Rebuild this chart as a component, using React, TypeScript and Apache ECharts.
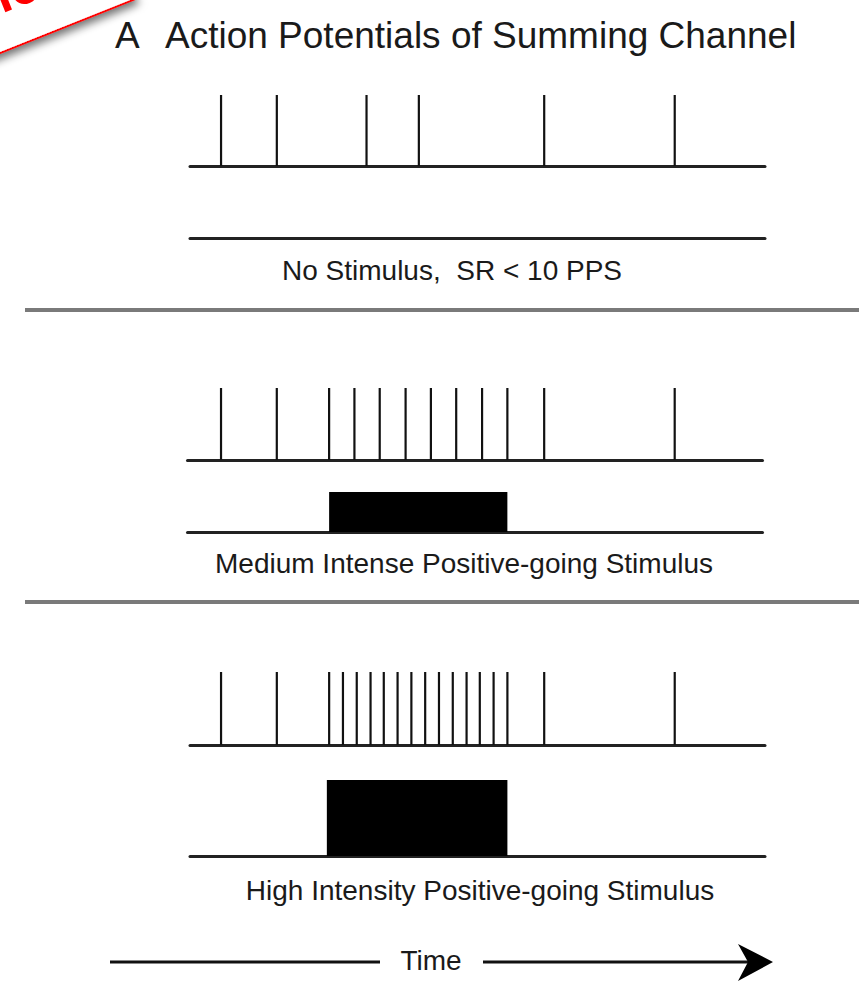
import React, { useEffect, useRef } from "react";
import * as echarts from "echarts";

// Spike times (0..100 time units across the trace)
const spikesNoStim = [5.4, 15.1, 30.7, 39.8, 61.6, 84.3];
const spikesMedium = [5.4, 15.1, 24.2, 28.6, 33.0, 37.5, 41.9, 46.3, 50.8, 55.2, 61.6, 84.3];
const spikesHigh = [
  5.4, 15.1, 24.2, 26.6, 29.0, 31.4, 33.7, 36.1, 38.5, 40.9, 43.3, 45.7, 48.1, 50.4, 52.8, 55.2, 61.6, 84.3,
];
// Stimulus windows [start, end]
const stimNo: number[][] = [];
const stimMedium = [[24.2, 55.2]];
const stimHigh = [[23.8, 55.2]];

const panelLabels = [
  "No Stimulus,  SR < 10 PPS",
  "Medium Intense Positive-going Stimulus",
  "High Intensity Positive-going Stimulus",
];
const titleLetter = "A";
const titleText = "Action Potentials of Summing Channel";
const timeLabel = "Time";

const FONT = "'Liberation Sans', Arial, Helvetica, sans-serif";

export default function App() {
  const ref = useRef<HTMLDivElement>(null);
  useEffect(() => {
    document.body.style.margin = "0";
    const chart = echarts.init(ref.current!, null, { renderer: "svg" });

    const grids = [
      { left: 190, top: 95, width: 575, height: 71 },
      { left: 190, top: 198, width: 575, height: 40 },
      { left: 187.5, top: 388, width: 575, height: 72 },
      { left: 187.5, top: 492, width: 575, height: 40 },
      { left: 190, top: 672, width: 575, height: 73 },
      { left: 190, top: 780, width: 575, height: 76 },
    ];
    const shifts = [0, 0, -0.43, -0.43, 0, 0];

    const xAxes = grids.map((_, i) => ({
      type: "value",
      gridIndex: i,
      min: 0 + shifts[i],
      max: 100 + shifts[i],
      axisLine: { show: true, onZero: false, lineStyle: { color: "#222", width: 3 } },
      axisTick: { show: false },
      axisLabel: { show: false },
      splitLine: { show: false },
    }));
    const yAxes = grids.map((_, i) => ({
      type: "value",
      gridIndex: i,
      min: 0,
      max: 1,
      show: false,
    }));

    const spikeSeries = (data: number[], idx: number) => ({
      type: "custom",
      xAxisIndex: idx,
      yAxisIndex: idx,
      data: data.map((t) => [t, 1]),
      encode: { x: 0, y: 1 },
      renderItem: (_p: any, api: any) => {
        const x = api.value(0);
        const p0 = api.coord([x, 0]);
        const p1 = api.coord([x, 1]);
        return {
          type: "line",
          shape: { x1: p0[0], y1: p0[1], x2: p1[0], y2: p1[1] },
          style: { stroke: "#111", lineWidth: 2.2 },
        };
      },
      z: 3,
    });
    const stimSeries = (data: number[][], idx: number) => ({
      type: "custom",
      xAxisIndex: idx,
      yAxisIndex: idx,
      data: data,
      encode: { x: [0, 1] },
      renderItem: (_p: any, api: any) => {
        const p0 = api.coord([api.value(0), 0]);
        const p1 = api.coord([api.value(1), 1]);
        return {
          type: "rect",
          shape: { x: p0[0], y: p1[1], width: p1[0] - p0[0], height: p0[1] - p1[1] },
          style: { fill: "#000" },
        };
      },
      z: 3,
    });

    const textEl = (text: string, x: number, y: number, size: number, align = "center") => ({
      type: "text",
      x,
      y,
      style: {
        text,
        fill: "#1a1a1a",
        font: `${size}px ${FONT}`,
        align,
        verticalAlign: "middle",
      },
    });

    const theta = 0.38;
    chart.setOption({
      animation: false,
      backgroundColor: "#fff",
      grid: grids.map((g) => ({ ...g, containLabel: false })),
      xAxis: xAxes,
      yAxis: yAxes,
      series: [
        spikeSeries(spikesNoStim, 0),
        stimSeries(stimNo, 1),
        spikeSeries(spikesMedium, 2),
        stimSeries(stimMedium, 3),
        spikeSeries(spikesHigh, 4),
        stimSeries(stimHigh, 5),
      ],
      graphic: [
        // red banner in top-left corner
        {
          type: "group",
          x: 0,
          y: 53,
          rotation: theta,
          z: 10,
          children: [
            {
              type: "rect",
              shape: { x: -260, y: -90, width: 404, height: 90 },
              style: {
                fill: "#fff",
                stroke: "#ff0000",
                lineWidth: 2,
                shadowBlur: 8,
                shadowColor: "rgba(0,0,0,0.55)",
                shadowOffsetX: 2,
                shadowOffsetY: 5,
              },
            },
            {
              type: "text",
              x: 60,
              y: -28,
              style: {
                text: "ic",
                fill: "#ff0000",
                font: `bold 52px ${FONT}`,
                align: "right",
                verticalAlign: "bottom",
              },
            },
          ],
        },
        textEl(titleLetter, 115, 35, 37, "left"),
        textEl(titleText, 165, 35, 37, "left"),
        textEl(panelLabels[0], 452, 270, 28),
        textEl(panelLabels[1], 464, 563, 28),
        textEl(panelLabels[2], 480, 890, 28),
        {
          type: "line",
          shape: { x1: 25, y1: 310, x2: 859, y2: 310 },
          style: { stroke: "#7a7a7a", lineWidth: 4 },
        },
        {
          type: "line",
          shape: { x1: 25, y1: 602, x2: 859, y2: 602 },
          style: { stroke: "#7a7a7a", lineWidth: 4 },
        },
        {
          type: "line",
          shape: { x1: 110, y1: 962, x2: 380, y2: 962 },
          style: { stroke: "#111", lineWidth: 3 },
        },
        textEl(timeLabel, 431, 960, 28),
        {
          type: "line",
          shape: { x1: 483, y1: 962, x2: 748, y2: 962 },
          style: { stroke: "#111", lineWidth: 3 },
        },
        {
          type: "polygon",
          shape: {
            points: [
              [738, 944],
              [773, 962],
              [738, 981],
              [748, 962],
            ],
          },
          style: { fill: "#000" },
        },
      ],
    });
    return () => chart.dispose();
  }, []);
  return <div ref={ref} style={{ width: 859, height: 988 }} />;
}
